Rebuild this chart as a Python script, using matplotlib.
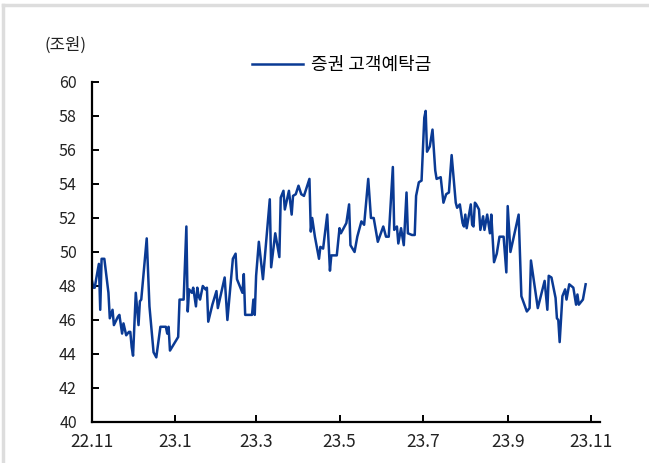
import matplotlib
matplotlib.use("Agg")
import matplotlib.pyplot as plt
import pandas as pd
from matplotlib.lines import Line2D

plt.rcParams['font.family'] = ['Noto Sans CJK KR', 'DejaVu Sans']

# 증권 고객예탁금 (조원)
dates = [
    '2022-11-01', '2022-11-02', '2022-11-03', '2022-11-04', '2022-11-06', '2022-11-07',
    '2022-11-08', '2022-11-10', '2022-11-13', '2022-11-14', '2022-11-16', '2022-11-17',
    '2022-11-20', '2022-11-21', '2022-11-23', '2022-11-24', '2022-11-26', '2022-11-28',
    '2022-11-29', '2022-11-30', '2022-12-01', '2022-12-03', '2022-12-05', '2022-12-06',
    '2022-12-07', '2022-12-11', '2022-12-13', '2022-12-16', '2022-12-18', '2022-12-21',
    '2022-12-25', '2022-12-26', '2022-12-27', '2022-12-28', '2023-01-03', '2023-01-04',
    '2023-01-07', '2023-01-09', '2023-01-10', '2023-01-11', '2023-01-13', '2023-01-14',
    '2023-01-16', '2023-01-17', '2023-01-18', '2023-01-19', '2023-01-21', '2023-01-23',
    '2023-01-24', '2023-01-25', '2023-01-28', '2023-01-31', '2023-02-01', '2023-02-06',
    '2023-02-08', '2023-02-12', '2023-02-14', '2023-02-15', '2023-02-19', '2023-02-20',
    '2023-02-21', '2023-02-26', '2023-02-27', '2023-02-28', '2023-03-01', '2023-03-03',
    '2023-03-06', '2023-03-11', '2023-03-12', '2023-03-15', '2023-03-18', '2023-03-19',
    '2023-03-21', '2023-03-22', '2023-03-25', '2023-03-27', '2023-03-28', '2023-03-30',
    '2023-04-01', '2023-04-03', '2023-04-05', '2023-04-09', '2023-04-10', '2023-04-11',
    '2023-04-13', '2023-04-16', '2023-04-17', '2023-04-19', '2023-04-22', '2023-04-24',
    '2023-04-25', '2023-04-29', '2023-05-01', '2023-05-02', '2023-05-06', '2023-05-08',
    '2023-05-09', '2023-05-12', '2023-05-14', '2023-05-17', '2023-05-19', '2023-05-22',
    '2023-05-24', '2023-05-26', '2023-05-29', '2023-06-02', '2023-06-04', '2023-06-06',
    '2023-06-09', '2023-06-10', '2023-06-12', '2023-06-13', '2023-06-15', '2023-06-17',
    '2023-06-19', '2023-06-20', '2023-06-23', '2023-06-25', '2023-06-26', '2023-06-28',
    '2023-06-30', '2023-07-02', '2023-07-03', '2023-07-04', '2023-07-06', '2023-07-08',
    '2023-07-10', '2023-07-11', '2023-07-14', '2023-07-16', '2023-07-18', '2023-07-20',
    '2023-07-22', '2023-07-25', '2023-07-26', '2023-07-28', '2023-07-30', '2023-07-31',
    '2023-08-01', '2023-08-02', '2023-08-05', '2023-08-06', '2023-08-07', '2023-08-08',
    '2023-08-09', '2023-08-11', '2023-08-12', '2023-08-14', '2023-08-15', '2023-08-17',
    '2023-08-19', '2023-08-20', '2023-08-22', '2023-08-24', '2023-08-26', '2023-08-29',
    '2023-08-31', '2023-09-01', '2023-09-03', '2023-09-09', '2023-09-11', '2023-09-15',
    '2023-09-17', '2023-09-18', '2023-09-23', '2023-09-28', '2023-09-30', '2023-10-01',
    '2023-10-03', '2023-10-06', '2023-10-07', '2023-10-08', '2023-10-09', '2023-10-11',
    '2023-10-13', '2023-10-14', '2023-10-16', '2023-10-19', '2023-10-21', '2023-10-22',
    '2023-10-23', '2023-10-26', '2023-10-28',
]
deposits = [
    48.3, 47.9, 47.9, 48.4, 49.3, 46.6,
    49.6, 49.6, 47.6, 46.1, 46.6, 45.7,
    46.2, 46.3, 45.2, 45.8, 45.1, 45.3,
    45.3, 44.4, 43.9, 47.6, 45.7, 47.1,
    47.2, 50.8, 46.8, 44.1, 43.8, 45.6,
    45.6, 45.2, 45.6, 44.2, 45.0, 47.2,
    47.2, 51.5, 46.5, 47.8, 47.6, 47.9,
    46.8, 47.9, 47.4, 47.2, 48.0, 47.8,
    47.9, 45.9, 46.9, 47.7, 46.7, 48.5,
    46.0, 49.6, 49.9, 48.4, 47.6, 48.7,
    46.3, 46.3, 47.2, 46.3, 48.6, 50.6,
    48.4, 53.1, 49.1, 51.1, 49.7, 53.2,
    53.6, 52.5, 53.6, 52.2, 53.3, 53.4,
    53.9, 53.4, 53.3, 54.3, 51.2, 52.0,
    50.9, 49.6, 50.3, 50.2, 52.2, 48.9,
    49.8, 49.8, 51.4, 51.1, 51.7, 52.8,
    50.4, 50.0, 50.9, 51.8, 51.6, 54.3,
    52.0, 52.0, 50.6, 51.5, 50.9, 50.9,
    55.0, 51.3, 51.5, 50.5, 51.4, 50.4,
    53.5, 51.1, 51.0, 51.0, 53.3, 54.1,
    54.2, 57.9, 58.3, 55.9, 56.2, 57.2,
    54.8, 54.3, 54.4, 52.9, 53.4, 53.5,
    55.7, 52.9, 52.6, 52.8, 51.7, 51.5,
    52.2, 51.4, 52.8, 51.6, 51.5, 52.9,
    52.8, 52.5, 51.3, 52.1, 51.3, 52.2,
    51.1, 52.2, 49.4, 49.9, 50.9, 50.9,
    48.8, 52.7, 50.0, 52.2, 47.4, 46.5,
    46.7, 49.5, 46.7, 48.3, 46.6, 48.6,
    48.5, 47.3, 46.1, 46.0, 44.7, 47.4,
    47.8, 47.2, 48.1, 47.9, 46.9, 47.5,
    46.9, 47.2, 48.1,
]
tick_dates = ['2022-11-01', '2023-01-01', '2023-03-01', '2023-05-01',
              '2023-07-01', '2023-09-01', '2023-11-01']
tick_labels = ['22.11', '23.1', '23.3', '23.5', '23.7', '23.9', '23.11']
series_name = '증권 고객예탁금'

x = pd.to_datetime(dates)

fig = plt.figure(figsize=(6.49, 4.63), dpi=100)
ax = fig.add_axes([0.1418, 0.0886, 0.7827, 0.7343])

ax.plot(x, deposits, color='#0a3a94', lw=1.8, label=series_name)

ax.set_ylim(40, 60)
ax.set_yticks(range(40, 61, 2))
ax.set_xlim(pd.Timestamp('2022-11-01'), pd.Timestamp('2023-11-07 12:00'))
ax.set_xticks(pd.to_datetime(tick_dates))
ax.set_xticklabels(tick_labels)

for side in ['top', 'right']:
    ax.spines[side].set_visible(False)
for side in ['left', 'bottom']:
    ax.spines[side].set_linewidth(1.6)
    ax.spines[side].set_color('black')

ax.tick_params(axis='both', direction='in', length=5, width=1.4,
               labelsize=11.5, colors='black')
ax.tick_params(axis='y', pad=11)
ax.tick_params(axis='x', pad=8)
for lab in ax.get_yticklabels():
    lab.set_color('#222222')
for lab in ax.get_xticklabels():
    lab.set_color('#222222')
    lab.set_fontsize(12.5)

ax.legend(loc='center', bbox_to_anchor=(0.492, 1.05), frameon=False,
          fontsize=13, handlelength=2.8, handletextpad=0.45)

fig.text(0.069, 0.903, '(조원)', fontsize=12, color='#222222', va='center')

# light frame around the figure
fig.add_artist(Line2D([0.005, 1.0], [0.989, 0.989], color='#dddddd', lw=2.5,
                      transform=fig.transFigure))
fig.add_artist(Line2D([0.005, 0.005], [0.0, 0.989], color='#dddddd', lw=2.5,
                      transform=fig.transFigure))

fig.savefig('out.png', dpi=100)
